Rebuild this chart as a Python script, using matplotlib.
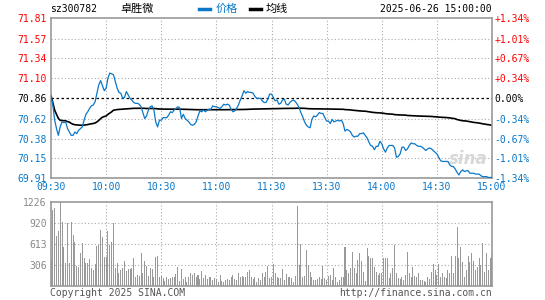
"""Intraday minute chart for sz300782 (卓胜微), 2025-06-26, Sina style."""
import numpy as np
import matplotlib; matplotlib.use("Agg")
import matplotlib.pyplot as plt
from matplotlib.transforms import blended_transform_factory

PREV_CLOSE = 70.86
Y_LO, Y_HI = 69.91, 71.81
PRICE_TICKS = [71.81, 71.57, 71.34, 71.10, 70.86, 70.62, 70.38, 70.15, 69.91]
PCT_TICKS = ["+1.34%", "+1.01%", "+0.67%", "+0.34%", "0.00%",
             "-0.34%", "-0.67%", "-1.01%", "-1.34%"]
VOL_TICKS = [306, 613, 920, 1226]
TIME_LABELS = ["09:30", "10:00", "10:30", "11:00", "11:30",
               "13:30", "14:00", "14:30", "15:00"]

# one price per trading minute, 09:30 .. 15:00 (241 points)
price = [
    70.89, 70.78, 70.60, 70.50, 70.42, 70.52, 70.58, 70.57, 70.58, 70.50,
    70.46, 70.42, 70.42, 70.46, 70.44, 70.48, 70.50, 70.52, 70.60, 70.67,
    70.70, 70.74, 70.77, 70.78, 70.82, 70.92, 71.02, 71.07, 71.01, 70.95,
    70.98, 71.10, 71.16, 71.15, 71.14, 71.06, 70.98, 70.93, 70.92, 70.86,
    70.87, 70.94, 70.90, 70.86, 70.84, 70.81, 70.80, 70.80, 70.79, 70.76,
    70.69, 70.62, 70.65, 70.72, 70.76, 70.77, 70.72, 70.58, 70.52, 70.60,
    70.60, 70.63, 70.63, 70.63, 70.66, 70.70, 70.69, 70.72, 70.74, 70.76,
    70.75, 70.62, 70.67, 70.62, 70.60, 70.58, 70.55, 70.54, 70.55, 70.58,
    70.65, 70.71, 70.70, 70.72, 70.70, 70.72, 70.73, 70.73, 70.77, 70.76,
    70.76, 70.75, 70.74, 70.76, 70.79, 70.78, 70.79, 70.78, 70.73, 70.70,
    70.71, 70.74, 70.78, 70.84, 70.89, 70.95, 70.92, 70.94, 70.93, 70.93,
    70.92, 70.88, 70.86, 70.86, 70.86, 70.83, 70.81, 70.81, 70.85, 70.91,
    70.91, 70.87, 70.83, 70.84, 70.79, 70.80, 70.84, 70.85, 70.79, 70.78,
    70.81, 70.83, 70.84, 70.82, 70.79, 70.75, 70.69, 70.64, 70.58, 70.54,
    70.52, 70.51, 70.61, 70.65, 70.64, 70.66, 70.69, 70.68, 70.68, 70.63,
    70.59, 70.59, 70.56, 70.61, 70.58, 70.59, 70.60, 70.59, 70.60, 70.56,
    70.47, 70.49, 70.48, 70.46, 70.42, 70.40, 70.41, 70.41, 70.44, 70.44,
    70.45, 70.42, 70.39, 70.34, 70.30, 70.29, 70.25, 70.29, 70.29, 70.35,
    70.32, 70.26, 70.22, 70.27, 70.30, 70.30, 70.30, 70.27, 70.16, 70.17,
    70.20, 70.28, 70.28, 70.24, 70.26, 70.30, 70.33, 70.32, 70.32, 70.30,
    70.29, 70.29, 70.28, 70.26, 70.24, 70.26, 70.27, 70.26, 70.24, 70.22,
    70.20, 70.16, 70.12, 70.11, 70.11, 70.11, 70.11, 70.07, 70.05, 70.05,
    70.02, 69.98, 69.95, 69.99, 70.01, 69.99, 70.00, 70.00, 69.97, 69.97,
    69.97, 69.96, 69.96, 69.96, 69.94, 69.93, 69.93, 69.93, 69.92, 69.92,
    69.92,
]

# per-minute volume (lots), same 241 minutes
volume = [
    375, 1104, 1129, 725, 803, 1226, 934, 569, 336, 920,
    336, 925, 740, 642, 287, 277, 482, 618, 399, 326,
    336, 389, 253, 229, 316, 579, 594, 812, 715, 414,
    423, 803, 594, 642, 910, 253, 336, 190, 229, 253,
    365, 219, 238, 238, 253, 399, 122, 156, 141, 482,
    180, 365, 287, 141, 253, 238, 131, 423, 433, 122,
    141, 107, 73, 122, 92, 107, 122, 122, 170, 268,
    73, 243, 92, 131, 58, 131, 180, 156, 190, 122,
    156, 92, 219, 107, 156, 92, 131, 122, 83, 107,
    92, 58, 156, 73, 58, 83, 92, 83, 122, 156,
    92, 83, 180, 122, 141, 122, 122, 204, 229, 122,
    92, 122, 58, 107, 83, 190, 122, 204, 287, 107,
    122, 316, 180, 122, 107, 107, 238, 83, 170, 131,
    122, 107, 58, 141, 1163, 302, 608, 122, 141, 521,
    302, 204, 122, 83, 83, 92, 122, 92, 287, 107,
    83, 141, 156, 83, 253, 122, 58, 83, 122, 122,
    560, 229, 190, 253, 496, 253, 180, 375, 482, 365,
    204, 73, 545, 433, 399, 399, 268, 204, 156, 180,
    190, 399, 399, 399, 107, 180, 253, 594, 190, 107,
    92, 122, 83, 156, 496, 180, 122, 268, 141, 122,
    190, 83, 83, 73, 58, 122, 92, 204, 316, 229,
    156, 316, 122, 190, 122, 107, 229, 180, 433, 180,
    433, 861, 399, 569, 350, 131, 229, 433, 350, 472,
    365, 229, 277, 399, 302, 618, 204, 472, 229, 399,
    448,
]

BLUE = "#0a78c8"
RED = "#ff0000"
GRID = "#aaaaaa"
FRAME = "#999999"
MONO = "DejaVu Sans Mono"
CJK = ["Noto Sans CJK SC", "DejaVu Sans"]

p = np.array(price)
v = np.array(volume, dtype=float)
avg = np.cumsum(p * v) / np.cumsum(v)   # 均线 = running volume-weighted price
x = np.arange(len(p))

W, H = 545, 300
fig = plt.figure(figsize=(W / 100, H / 100), dpi=100)
L, R = 51 / W, 492 / W


def ax_rect(top, bottom):
    return [L, 1 - bottom / H, R - L, (bottom - top) / H]


ax = fig.add_axes(ax_rect(18.3, 178.3))
axv = fig.add_axes(ax_rect(201.7, 285.7))

for a in (ax, axv):
    a.set_xlim(0, 240)
    for s in a.spines.values():
        s.set_color(FRAME); s.set_linewidth(1.2)
    a.tick_params(length=0, pad=3)
    for xv in range(30, 240, 30):
        a.axvline(xv, color=GRID, lw=0.8, ls=(0, (1, 2)), zorder=0)

# --- price panel
ax.set_ylim(Y_LO, Y_HI)
for yv in PRICE_TICKS[1:-1]:
    if yv != PREV_CLOSE:
        ax.axhline(yv, color=GRID, lw=0.8, ls=(0, (1, 2)), zorder=0)
ax.axhline(PREV_CLOSE, color="black", lw=0.9, ls=(0, (2, 2)), zorder=1)
ax.plot(x, p, color=BLUE, lw=0.9, zorder=3)
ax.plot(x, avg, color="black", lw=1.2, zorder=2)

ax.set_yticks(PRICE_TICKS)
ax.set_yticklabels([f"{t:.2f}" for t in PRICE_TICKS], family=MONO, fontsize=7)
for lab, t in zip(ax.get_yticklabels(), PRICE_TICKS):
    lab.set_color(RED if t > PREV_CLOSE else ("black" if t == PREV_CLOSE else BLUE))

ax.set_xticks(range(0, 241, 30))
ax.set_xticklabels(TIME_LABELS, family=MONO, fontsize=7, color=BLUE)
ax.tick_params(axis="x", pad=3)

axr = ax.twinx()
axr.set_ylim(Y_LO, Y_HI)
axr.set_yticks(PRICE_TICKS)
axr.set_yticklabels(PCT_TICKS, family=MONO, fontsize=7)
for lab, t in zip(axr.get_yticklabels(), PRICE_TICKS):
    lab.set_color(RED if t > PREV_CLOSE else ("black" if t == PREV_CLOSE else BLUE))
axr.tick_params(length=0, pad=2)
for s in axr.spines.values():
    s.set_visible(False)

# faint sina watermark
ax.text(0.945, 0.12, "sina", transform=ax.transAxes, ha="center", va="center",
        fontsize=12, fontweight="bold", style="italic", color="#d8d8d8", zorder=1)

# --- volume panel
axv.set_ylim(0, max(VOL_TICKS))
for yv in VOL_TICKS[:-1]:
    axv.axhline(yv, color=GRID, lw=0.8, ls=(0, (1, 2)), zorder=0)
axv.bar(x, v, width=0.55, color="#999999", zorder=2)
axv.set_xticks([])
axv.set_yticks(VOL_TICKS)
axv.set_yticklabels([str(t) for t in VOL_TICKS], family=MONO, fontsize=7, color="#888888")

# --- header and footer
fig.text(50 / W, 1 - 9 / H, "sz300782", family=MONO, fontsize=7, va="center")
fig.text(120 / W, 1 - 9 / H, "卓胜微", family=CJK, fontsize=8, va="center")
tr = fig.transFigure
fig.lines.append(plt.Line2D([199 / W, 210 / W], [1 - 9 / H] * 2, transform=tr,
                            color=BLUE, lw=2.5))
fig.text(216 / W, 1 - 9 / H, "价格", family=CJK, fontsize=8, va="center", color=BLUE)
fig.lines.append(plt.Line2D([250 / W, 261 / W], [1 - 9 / H] * 2, transform=tr,
                            color="black", lw=2.5))
fig.text(266 / W, 1 - 9 / H, "均线", family=CJK, fontsize=8, va="center")
fig.text(492 / W, 1 - 9 / H, "2025-06-26 15:00:00", family=MONO, fontsize=7,
         va="center", ha="right")
fig.text(50 / W, 1 - 293 / H, "Copyright 2025 SINA.COM", family=MONO, fontsize=7,
         va="center", color="#555555")
fig.text(492 / W, 1 - 293 / H, "http://finance.sina.com.cn", family=MONO, fontsize=7,
         va="center", ha="right", color="#555555")

fig.savefig("out.png", dpi=100)
